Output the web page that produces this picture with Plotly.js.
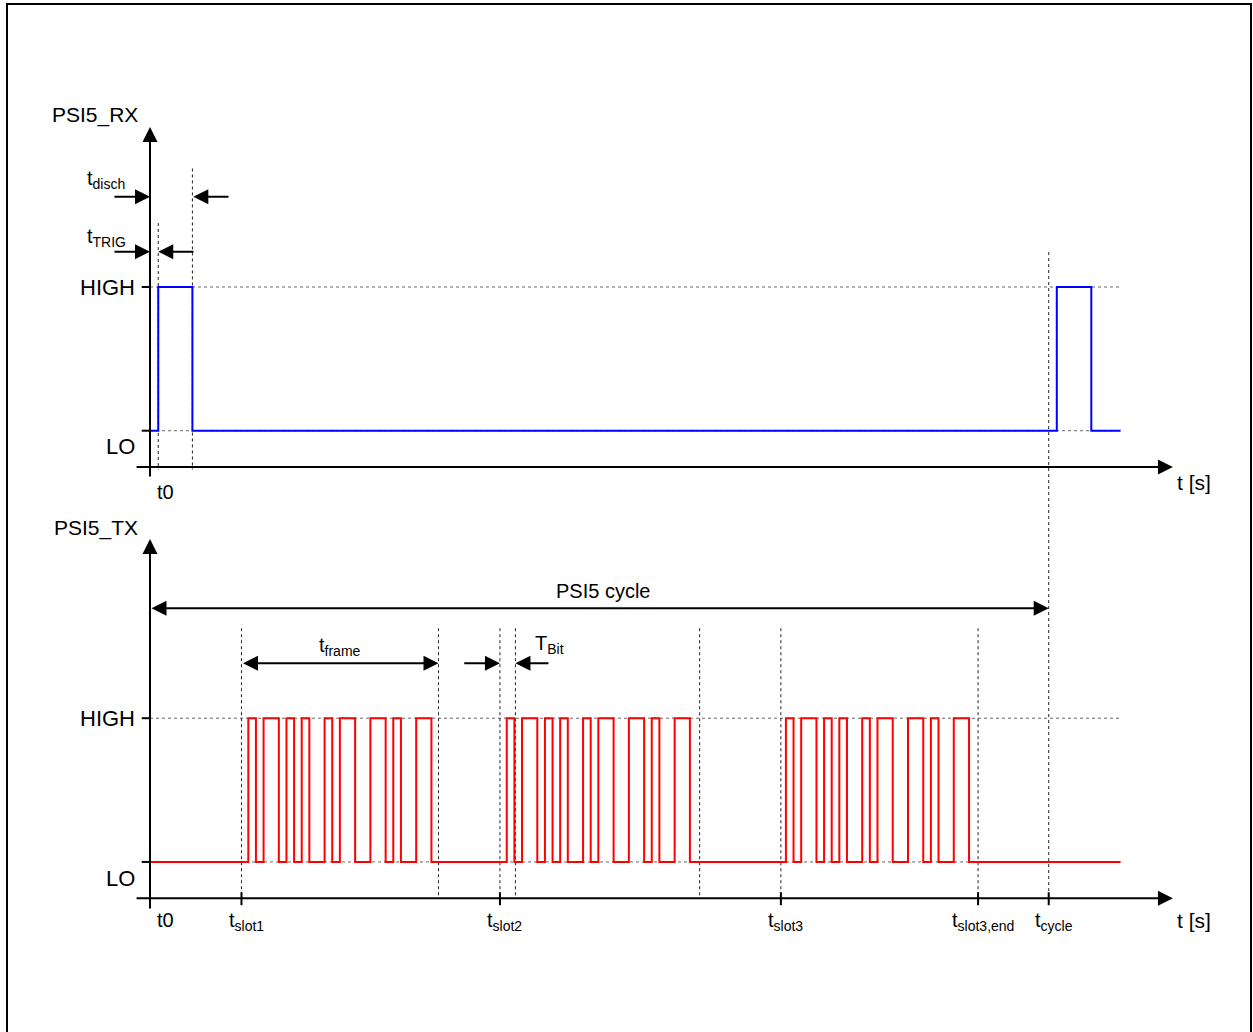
<!DOCTYPE html>
<html><head><meta charset="utf-8">
<script src="https://cdn.plot.ly/plotly-3.0.1.min.js"></script>
<style>html,body{margin:0;padding:0;background:#fff}</style>
</head><body><div id="chart" style="width:1253px;height:1032px"></div>
<script>
// ---------- data (time in µs, level 0 = LO, 1 = HIGH) ----------
const rxTimes  = [0, 4.6, 23.6, 504.5, 523.7, 540];
const rxLevels = [0, 1, 0, 1, 0, 0];
const frameHalfBits = [1,0,1,1,0,1,0,1,0,0,1,0,1,1,0,0,1,1,0,1,0,0,1,1];
const frameStarts = [54.7, 198.5, 353.8];
const halfBit = 4.245;
const signalEnd = 540;
const levelNames = ['LO', 'HIGH'];
const levelValues = [0, 1];
const tickNames = ['t<sub>slot1</sub>','t<sub>slot2</sub>','t<sub>slot3</sub>','t<sub>slot3,end</sub>','t<sub>cycle</sub>'];
const tickTimes = [50.9, 194.7, 351.0, 460.7, 500];
const tTrig = 4.6, tDisch = 23.6, tCycle = 500;
const frameEndMark = 160.5;   // end of t_frame
const bitEndMark = 203.3;     // end of T_Bit
const frame2EndMark = 305.8;

// ---------- build TX step signal ----------
const txX = [0], txY = [0];
frameStarts.forEach(s => {
  frameHalfBits.forEach((lv, k) => { txX.push(s + k * halfBit); txY.push(lv); });
  txX.push(s + frameHalfBits.length * halfBit); txY.push(0);
});
txX.push(signalEnd); txY.push(0);

const FONT = 'Liberation Sans, Arial, sans-serif';
const traces = [
  {x: rxTimes, y: rxLevels, mode: 'lines', line: {shape: 'hv', color: '#0000ff', width: 2}, yaxis: 'y', hoverinfo: 'skip'},
  {x: txX, y: txY, mode: 'lines', line: {shape: 'hv', color: '#ff0000', width: 2}, yaxis: 'y2', hoverinfo: 'skip'}
];

const shapes = [];
function vdot(x, y0, y1, yref) {
  shapes.push({type: 'line', xref: 'x', yref, x0: x, x1: x, y0, y1, layer: 'below',
    line: {color: '#222', width: 1, dash: 'dot'}});
}
function hdot(y, yref) {
  shapes.push({type: 'line', xref: 'x', yref, x0: 0, x1: signalEnd, y0: y, y1: y, layer: 'below',
    line: {color: '#666', width: 1, dash: 'dot'}});
}
function solid(x0, y0, x1, y1, yref) {
  shapes.push({type: 'line', xref: 'x', yref, x0, x1, y0, y1, line: {color: '#000', width: 2}});
}
['y', 'y2'].forEach(r => levelValues.forEach(v => { hdot(v, r); solid(-4.6, v, 0, v, r); }));
vdot(tTrig, 1.445, -0.27, 'y');
vdot(tDisch, 1.825, -0.27, 'y');
vdot(tCycle, 4.243, -0.301, 'y2');
[tickTimes[0], tickTimes[1], tickTimes[2], tickTimes[3], frameEndMark, bitEndMark, frame2EndMark]
  .forEach(t => vdot(t, 1.626, -0.253, 'y2'));
tickTimes.forEach(t => solid(t, -0.211, t, -0.301, 'y2'));
// outer frame
shapes.push({type: 'rect', xref: 'paper', yref: 'paper', x0: 7/1253, x1: 1251/1253, y0: -0.02, y1: 1 - 4/1032,
  line: {color: '#000', width: 2}, fillcolor: 'rgba(0,0,0,0)'});

const ann = [];
function arrow(xh, yh, xt, yt, yref, both, w, s) {
  ann.push({x: xh, y: yh, ax: xt, ay: yt, xref: 'x', yref, axref: 'x', ayref: yref, text: '',
    showarrow: true, arrowhead: 2, arrowsize: s, arrowwidth: w, arrowcolor: '#000',
    arrowside: both ? 'end+start' : 'end', startarrowhead: 2, startarrowsize: s,
    standoff: 0, startstandoff: 0});
}
function label(text, x, y, yref, xanchor, yanchor, size, xshift) {
  ann.push({text, x, y, xref: 'x', yref, xanchor, yanchor, showarrow: false, xshift: xshift || 0,
    font: {family: FONT, size, color: '#000'}});
}
// axes
arrow(569.1, -0.253, -8.3, -0.253, 'y', false, 2, 1.5);
arrow(0, 2.113, 0, -0.329, 'y', false, 2, 1.5);
arrow(569.1, -0.253, -8.3, -0.253, 'y2', false, 2, 1.5);
arrow(0, 2.246, 0, -0.335, 'y2', false, 2, 1.5);
// t_disch / t_TRIG
arrow(0, 1.628, -20.6, 1.628, 'y', false, 2, 1.5);
arrow(tDisch + 0.5, 1.628, 44.5, 1.628, 'y', false, 2, 1.5);
arrow(0, 1.246, -20.6, 1.246, 'y', false, 2, 1.5);
arrow(tTrig, 1.246, 25, 1.246, 'y', false, 2, 1.5);
// PSI5 cycle, t_frame, T_Bit
arrow(tCycle, 1.7655, 0, 1.7655, 'y2', true, 2, 1.5);
arrow(frameEndMark, 1.3827, tickTimes[0], 1.3827, 'y2', true, 2, 1.5);
arrow(tickTimes[1], 1.3827, 174.0, 1.3827, 'y2', false, 2, 1.5);
arrow(bitEndMark, 1.3827, 222.5, 1.3827, 'y2', false, 2, 1.5);

// labels
label('PSI5_RX', -5.6, 2.197, 'y', 'right', 'middle', 21);
label('PSI5_TX', -5.6, 2.322, 'y2', 'right', 'middle', 21);
['y', 'y2'].forEach(r => {
  levelValues.forEach((v, i) => label(levelNames[i], -7.2, v === 1 ? 1 : -0.113, r, 'right', 'middle', 22));
});
label('t0', 2.8, -0.339, 'y', 'left', 'top', 20);
label('t0', 2.8, -0.31, 'y2', 'left', 'top', 20);
label('t [s]', 570.3, -0.357, 'y', 'left', 'middle', 21);
label('t [s]', 570.3, -0.405, 'y2', 'left', 'middle', 21);
tickTimes.forEach((t, i) => label(tickNames[i], t, -0.31, 'y2', 'center', 'top', 20, 5));
label('t<sub>disch</sub>', -36.2, 1.745, 'y', 'left', 'middle', 20);
label('t<sub>TRIG</sub>', -36.2, 1.342, 'y', 'left', 'middle', 20);
label('PSI5 cycle', 252, 1.884, 'y2', 'center', 'middle', 20);
label('t<sub>frame</sub>', 105.7, 1.5, 'y2', 'center', 'middle', 20);
label('T<sub>Bit</sub>', 213.1, 1.515, 'y2', 'left', 'middle', 20);

const layout = {
  width: 1253, height: 1032, autosize: false,
  margin: {l: 0, r: 0, t: 0, b: 0},
  paper_bgcolor: '#fff', plot_bgcolor: '#fff', showlegend: false,
  xaxis: {range: [-83.45, 613.66], visible: false, fixedrange: true},
  yaxis: {range: [-4.1844, 2.9972], visible: false, fixedrange: true},
  yaxis2: {range: [-1.1830, 5.9965], visible: false, overlaying: 'y', fixedrange: true},
  shapes, annotations: ann
};
Plotly.newPlot('chart', traces, layout, {displayModeBar: false, staticPlot: true});
</script></body></html>
